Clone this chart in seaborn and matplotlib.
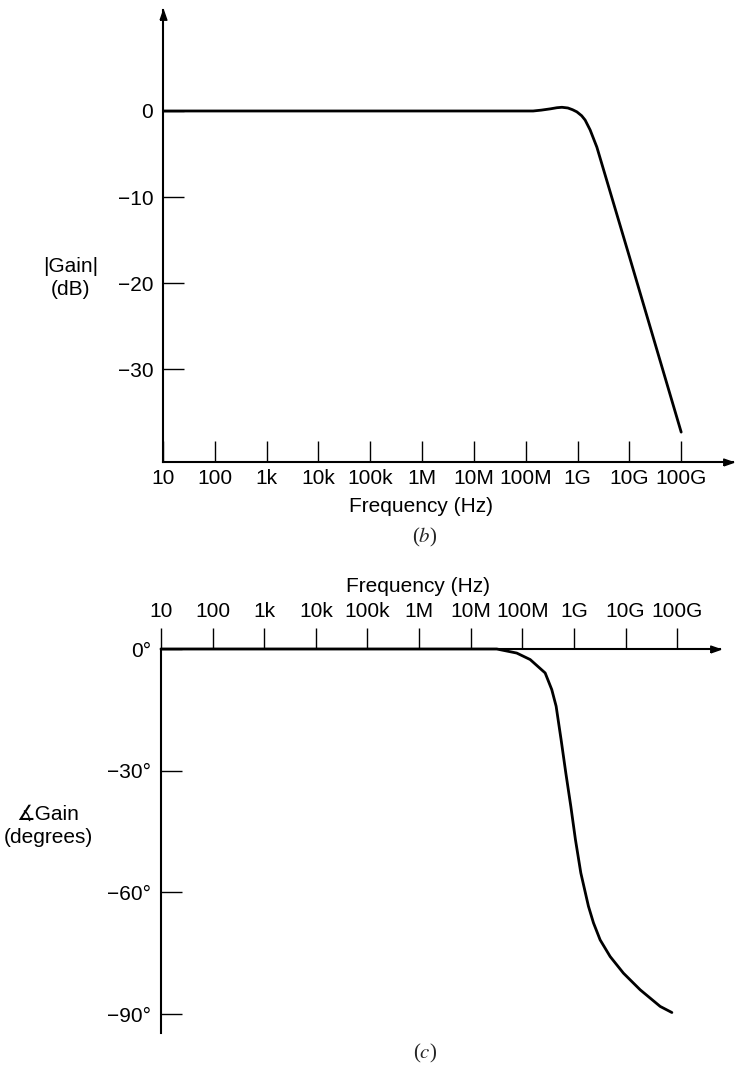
import matplotlib
matplotlib.use("Agg")
import matplotlib.pyplot as plt
import seaborn as sns

# magnitude response (b)
freq_mag = [10, 1e4, 1.39e8, 2e8, 3e8, 4e8, 5e8, 6.5e8, 8e8, 9.7e8,
            1.2e9, 1.4e9, 1.75e9, 2.36e9, 1e10, 1e11]
gain_db = [0, 0, 0, 0.1, 0.25, 0.38, 0.43, 0.35, 0.15, -0.1,
           -0.55, -1.05, -2.2, -4.2, -16.9, -37.3]

# phase response (c)
freq_ph = [10, 1e6, 3.2e7, 7.8e7, 1.42e8, 2.77e8, 3.72e8, 4.52e8, 5.65e8,
           6.97e8, 8.71e8, 1.07e9, 1.36e9, 1.91e9, 2.39e9, 3.22e9, 5.03e9,
           9.1e9, 1.92e10, 4.69e10, 7.9e10]
phase_deg = [0, 0, 0, -1.0, -2.6, -5.9, -10, -14.1, -22.4,
             -30.6, -38.8, -47.0, -55.2, -63.4, -67.5, -71.7, -75.8,
             -79.9, -84.0, -88.1, -89.6]

tick_freqs = [10, 100, 1e3, 1e4, 1e5, 1e6, 1e7, 1e8, 1e9, 1e10, 1e11]
tick_names = ["10", "100", "1k", "10k", "100k", "1M", "10M", "100M", "1G", "10G", "100G"]
mag_ticks = [0, -10, -20, -30]
mag_names = ["0", "\u221210", "\u221220", "\u221230"]
ph_ticks = [0, -30, -60, -90]
ph_names = ["0\u00b0", "\u221230\u00b0", "\u221260\u00b0", "\u221290\u00b0"]

sns.set_theme(style="white")
plt.rcParams["font.family"] = ["Liberation Sans", "DejaVu Sans"]

W, H = 737, 1073
fig = plt.figure(figsize=(W / 100, H / 100), dpi=100)


def box(l, t, r, b):
    return [l / W, 1 - b / H, (r - l) / W, (b - t) / H]


arrow_r = [(-1, -0.35), (0, 0), (-1, 0.35), (-1, -0.35)]
arrow_u = [(-0.35, -1), (0, 0), (0.35, -1), (-0.35, -1)]
fs = 15

# ---- (b) magnitude
ax1 = fig.add_axes(box(163, 10, 733, 462))
ax1.set_xscale("log")
sns.lineplot(x=freq_mag, y=gain_db, ax=ax1, color="black", lw=2.0,
             estimator=None, sort=False)
ax1.set_xlim(10, 10 ** 12.0)
ax1.set_ylim(-40.77, 11.73)
ax1.set_xticks(tick_freqs, tick_names)
ax1.set_yticks(mag_ticks, mag_names)
ax1.minorticks_off()
for s in ["top", "right"]:
    ax1.spines[s].set_visible(False)
for s in ["left", "bottom"]:
    ax1.spines[s].set_color("black")
    ax1.spines[s].set_linewidth(1.5)
ax1.tick_params(axis="both", direction="in", length=15, width=1, color="black",
                labelsize=fs, labelcolor="black", pad=5, bottom=True, left=True)
ax1.tick_params(axis="y", pad=7)
ax1.plot(1, 0, marker=arrow_r, ms=14, color="black", transform=ax1.transAxes, clip_on=False)
ax1.plot(0, 1, marker=arrow_u, ms=14, color="black", transform=ax1.transAxes, clip_on=False)
ax1.set_xlabel("Frequency (Hz)", fontsize=fs, color="black")
ax1.xaxis.set_label_coords((421 - 163) / 570, -(506 - 462) / 452)
ax1.xaxis.label.set_va("center")
ax1.set_ylabel("|Gain|\n(dB)", fontsize=fs, color="black", rotation=0,
               ha="center", va="center", linespacing=1.3)
ax1.yaxis.set_label_coords((71 - 163) / 570, (462 - 278) / 452)
fig.text(425 / W, 1 - 537 / H, "($b$)", ha="center", va="center", fontsize=fs,
         family="Liberation Serif", math_fontfamily="stix")

# ---- (c) phase
ax2 = fig.add_axes(box(161, 649, 720, 1033))
ax2.set_xscale("log")
sns.lineplot(x=freq_ph, y=phase_deg, ax=ax2, color="black", lw=2.0,
             estimator=None, sort=False)
for ln in ax2.lines:
    ln.set_clip_on(False)
ax2.set_xlim(10, 10 ** 11.83)
ax2.set_ylim(-94.65, 0)
ax2.xaxis.tick_top()
ax2.xaxis.set_label_position("top")
ax2.set_xticks(tick_freqs, tick_names)
ax2.set_yticks(ph_ticks, ph_names)
ax2.minorticks_off()
for s in ["bottom", "right"]:
    ax2.spines[s].set_visible(False)
for s in ["left", "top"]:
    ax2.spines[s].set_color("black")
    ax2.spines[s].set_linewidth(1.5)
ax2.tick_params(axis="x", direction="out", length=15, width=1, color="black",
                labelsize=fs, labelcolor="black", pad=5, top=True, bottom=False)
ax2.tick_params(axis="y", direction="in", length=15, width=1, color="black",
                labelsize=fs, labelcolor="black", pad=7, left=True)
ax2.plot(1, 1, marker=arrow_r, ms=14, color="black", transform=ax2.transAxes, clip_on=False)
ax2.set_xlabel("Frequency (Hz)", fontsize=fs, color="black")
ax2.xaxis.set_label_coords((418 - 161) / 559, 1 + (649 - 587) / 384)
ax2.xaxis.label.set_va("center")
ax2.set_ylabel("\u2221Gain\n(degrees)", fontsize=fs, color="black", rotation=0,
               ha="center", va="center", linespacing=1.3)
ax2.yaxis.set_label_coords((48 - 161) / 559, (1033 - 826) / 384)
fig.text(425 / W, 1 - 1053 / H, "($c$)", ha="center", va="center", fontsize=fs,
         family="Liberation Serif", math_fontfamily="stix")

fig.savefig("out.png", dpi=100)
